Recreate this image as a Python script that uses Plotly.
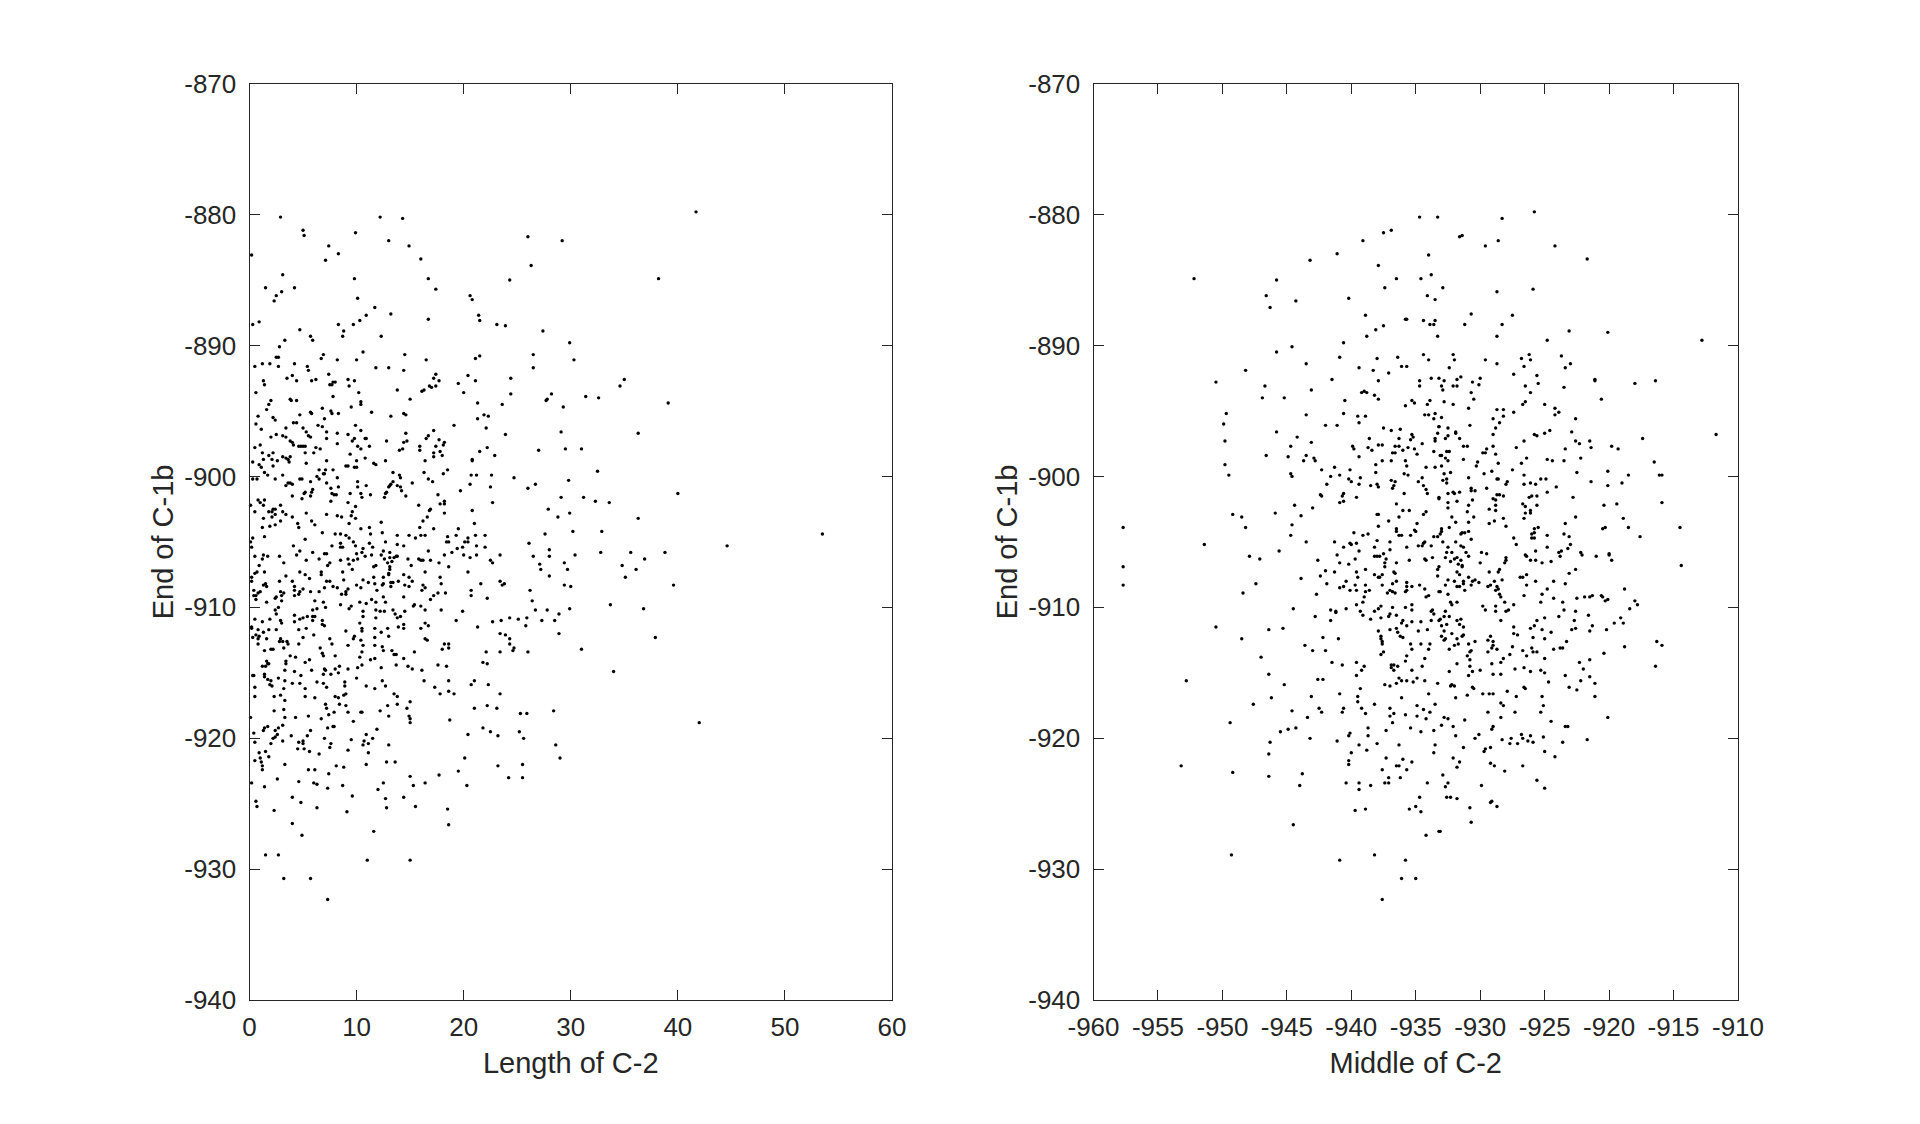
import plotly.graph_objects as go

# (Length of C-2, End of C-1b) for each event
length_vs_end = [
(2.9,-880.2),(12.2,-880.2),(14.3,-880.3),(5.0,-881.2),(5.1,-881.6),(9.9,-881.4),(13.0,-882.0),(14.9,-882.4),(7.4,-882.4),(8.3,-883.0),
(0.2,-883.1),(7.1,-883.5),(16.0,-883.4),(26.0,-881.7),(29.2,-882.0),(26.3,-883.9),(3.1,-884.6),(9.8,-884.9),(16.7,-884.9),(24.3,-885.0),
(1.5,-885.6),(4.2,-885.6),(17.4,-885.7),(3.0,-885.9),(2.5,-886.2),(2.3,-886.6),(20.6,-886.2),(20.8,-886.5),(10.1,-886.4),(11.7,-887.1),
(13.2,-887.6),(10.9,-887.7),(10.3,-888.1),(9.7,-888.4),(8.3,-888.4),(8.8,-888.9),(8.7,-889.3),(0.3,-888.4),(0.9,-888.2),(4.7,-888.8),
(5.7,-889.3),(5.9,-889.6),(12.3,-889.3),(16.7,-888.0),(21.4,-887.7),(21.5,-888.1),(23.1,-888.4),(23.9,-888.5),(27.4,-888.9),(29.9,-889.8),
(3.3,-889.6),(2.8,-890.1),(10.6,-890.5),(14.5,-890.7),(6.9,-890.7),(6.7,-891.0),(2.5,-890.9),(2.7,-890.9),(0.5,-891.6),(1.2,-891.4),
(1.9,-891.4),(2.7,-891.6),(4.2,-891.4),(5.4,-891.6),(5.5,-891.9),(8.2,-891.1),(10.0,-891.1),(11.8,-891.7),(13.0,-891.7),(14.4,-891.9),
(16.5,-891.1),(21.1,-891.0),(21.5,-890.8),(26.5,-890.7),(26.5,-891.7),(7.4,-892.2),(4.0,-892.3),(3.5,-892.5),(4.4,-892.7),(5.8,-892.7),
(6.2,-892.6),(1.3,-892.7),(1.4,-893.0),(7.5,-893.0),(7.7,-893.0),(7.8,-892.8),(8.0,-892.8),(9.2,-892.6),(9.8,-892.7),(9.3,-893.1),
(17.4,-892.2),(17.2,-892.5),(17.7,-892.7),(17.4,-893.1),(17.0,-893.2),(16.8,-893.1),(16.3,-893.4),(16.1,-893.5),(20.4,-892.3),(19.5,-892.9),
(21.1,-892.7),(24.4,-892.5),(13.8,-893.4),(10.2,-893.6),(0.6,-893.6),(20.0,-893.6),(24.4,-893.7),(7.8,-893.9),(15.0,-894.1),(28.2,-893.7),
(27.8,-894.1),(27.7,-894.2),(2.0,-894.2),(3.8,-894.1),(3.9,-894.2),(4.4,-894.2),(1.8,-894.5),(10.4,-894.3),(10.4,-894.5),(21.3,-894.4),
(23.6,-894.5),(9.5,-894.7),(6.8,-894.8),(29.3,-894.7),(7.6,-895.0),(11.4,-895.1),(5.7,-895.1),(5.8,-895.2),(7.7,-895.2),(8.3,-895.2),
(1.6,-894.9),(0.8,-895.4),(4.7,-895.3),(2.2,-895.5),(2.4,-895.7),(13.2,-895.4),(14.4,-895.2),(14.6,-895.3),(21.9,-895.3),(22.3,-895.4),
(21.3,-895.6),(7.0,-895.6),(4.1,-895.9),(4.4,-895.9),(0.6,-896.0),(9.9,-896.1),(6.4,-896.1),(6.8,-896.2),(19.1,-896.1),(22.1,-896.3),
(5.0,-896.3),(3.4,-896.3),(1.1,-896.4),(17.2,-896.5),(10.4,-896.5),(5.3,-896.6),(7.2,-896.6),(8.2,-896.7),(14.6,-896.7),(23.9,-896.8),
(29.1,-896.6),(16.7,-896.9),(2.5,-896.8),(3.1,-896.9),(2.0,-897.0),(3.4,-897.0),(5.5,-896.9),(5.7,-897.0),(9.2,-896.8),(7.2,-897.1),
(9.8,-897.1),(9.6,-897.3),(10.8,-897.1),(10.9,-897.1),(12.8,-897.3),(14.4,-897.4),(14.7,-897.3),(16.5,-897.1),(17.7,-897.2),(18.2,-897.4),
(18.1,-897.6),(17.4,-897.7),(8.2,-897.5),(3.8,-897.3),(4.0,-897.4),(4.1,-897.6),(11.2,-897.7),(15.9,-897.7),(4.6,-897.7),(4.8,-897.7),
(5.0,-897.7),(5.2,-897.7),(1.0,-897.6),(0.5,-897.8),(6.2,-897.8),(6.6,-897.9),(10.1,-897.7),(10.4,-897.9),(14.0,-898.0),(14.3,-897.9),
(15.9,-898.0),(17.8,-898.1),(21.5,-898.1),(22.2,-897.8),(27.0,-898.0),(29.5,-897.9),(1.2,-898.2),(2.2,-898.2),(1.8,-898.4),(5.2,-898.2),
(6.0,-898.2),(9.4,-898.3),(17.2,-898.2),(17.2,-898.5),(18.0,-898.4),(22.9,-898.4),(2.1,-898.7),(1.3,-898.7),(2.6,-898.8),(3.1,-898.5),
(3.4,-898.6),(3.6,-898.7),(3.8,-898.5),(3.7,-898.9),(7.2,-898.8),(10.8,-898.6),(10.0,-898.8),(12.7,-898.8),(16.4,-898.8),(20.8,-898.7),
(20.8,-898.8),(0.3,-898.9),(5.3,-899.0),(11.6,-899.0),(11.8,-899.1),(0.9,-899.1),(2.2,-899.2),(1.1,-899.3),(9.0,-899.2),(9.2,-899.2),
(9.8,-899.3),(10.0,-899.3),(7.8,-899.5),(6.5,-899.5),(7.1,-899.5),(18.5,-899.5),(16.3,-899.7),(13.4,-899.7),(1.4,-899.7),(6.9,-899.8),
(7.0,-899.8),(3.1,-899.9),(1.7,-899.9),(18.1,-899.8),(20.7,-899.9),(21.2,-899.9),(22.6,-899.9),(24.7,-900.1),(6.3,-900.0),(14.0,-899.9),
(14.1,-900.1),(8.2,-900.1),(0.3,-900.2),(0.7,-900.2),(2.4,-900.2),(4.7,-900.2),(4.9,-900.2),(6.5,-900.2),(16.7,-900.2),(29.8,-900.3),
(5.7,-900.4),(10.1,-900.4),(17.1,-900.4),(7.2,-900.5),(3.6,-900.5),(3.8,-900.5),(4.0,-900.6),(3.4,-900.7),(13.4,-900.4),(13.2,-900.6),
(13.1,-900.7),(13.0,-900.8),(10.9,-900.7),(10.1,-900.8),(15.2,-900.5),(13.8,-900.7),(14.1,-900.8),(14.2,-901.1),(20.6,-900.6),(22.5,-900.8),
(26.7,-900.6),(26.0,-900.9),(7.6,-900.9),(8.3,-900.8),(5.9,-901.0),(5.8,-901.2),(19.7,-901.1),(7.7,-901.3),(7.9,-901.4),(8.1,-901.4),
(9.4,-901.3),(10.4,-901.3),(10.5,-901.6),(11.3,-901.4),(5.2,-901.2),(5.1,-901.3),(5.7,-901.5),(4.9,-901.7),(4.0,-901.5),(12.8,-901.2),
(12.7,-901.3),(12.6,-901.6),(14.6,-901.5),(17.6,-901.4),(29.1,-901.6),(0.8,-901.8),(1.4,-901.8),(1.0,-902.0),(1.3,-902.2),(7.6,-901.9),
(9.2,-902.0),(17.8,-902.1),(18.2,-901.9),(18.2,-902.1),(22.7,-902.0),(0.1,-902.2),(2.9,-902.2),(9.9,-902.3),(15.8,-902.2),(16.9,-902.5),
(16.8,-902.6),(2.2,-902.5),(2.4,-902.5),(27.9,-902.5),(9.6,-902.7),(1.8,-902.7),(2.1,-902.7),(2.4,-902.9),(3.1,-902.7),(3.4,-902.9),
(4.0,-903.1),(0.5,-902.7),(5.3,-902.8),(20.8,-902.6),(18.2,-902.8),(7.2,-902.9),(8.2,-903.0),(8.6,-903.1),(9.5,-903.0),(9.9,-903.2),
(2.1,-903.1),(1.3,-903.2),(16.6,-903.1),(16.2,-903.4),(28.8,-903.1),(29.9,-902.8),(5.8,-903.4),(6.1,-903.7),(2.9,-903.4),(9.3,-903.6),
(12.3,-903.5),(21.0,-903.6),(4.5,-903.6),(4.6,-903.9),(2.4,-903.7),(1.9,-903.8),(1.2,-903.9),(15.9,-903.9),(11.2,-903.9),(10.4,-904.0),
(17.2,-904.0),(19.5,-904.0),
(6.8,-904.3),(8.0,-904.4),(8.5,-904.4),(9.0,-904.5),(9.3,-904.7),(11.3,-904.4),(12.4,-904.3),(13.8,-904.5),(14.9,-904.5),(15.5,-904.7),
(16.0,-904.5),(16.4,-904.5),(18.5,-904.6),(19.3,-904.5),(21.1,-904.5),(22.0,-904.5),(27.6,-904.4),(1.4,-904.6),(0.3,-904.7),(5.2,-904.8),
(12.7,-905.0),(9.7,-905.0),(9.9,-905.3),(0.1,-905.0),(0.2,-905.4),(18.6,-905.0),(18.4,-905.0),(20.1,-905.0),(20.4,-905.0),(20.4,-904.7),
(26.1,-905.1),(7.7,-905.3),(8.5,-905.1),(8.5,-905.4),(8.7,-905.4),(11.2,-905.1),(11.5,-905.4),(13.8,-905.2),(14.4,-905.3),(21.2,-905.3),
(22.0,-905.4),(4.1,-905.3),(10.6,-905.5),(10.5,-905.8),(12.5,-905.7),(13.1,-905.8),(16.7,-905.7),(19.9,-905.4),(19.4,-905.5),(18.9,-905.8),
(18.2,-906.0),(28.0,-905.6),(28.0,-906.1),(4.7,-905.7),(4.4,-906.0),(5.9,-905.8),(7.0,-905.9),(7.2,-905.9),(6.5,-906.3),(10.0,-905.9),
(0.5,-906.1),(1.3,-906.0),(1.7,-906.1),(1.2,-906.3),(2.8,-906.1),(10.8,-906.1),(11.4,-906.0),(12.3,-906.0),(12.6,-906.3),(13.1,-906.2),
(13.5,-906.2),(13.7,-906.1),(13.8,-906.1),(14.8,-906.3),(15.8,-906.3),(16.0,-906.4),(16.2,-906.4),(16.9,-906.4),(20.0,-906.0),(20.6,-906.2),
(21.2,-906.0),(23.4,-906.0),(26.5,-906.1),(5.3,-906.4),(8.5,-906.4),(9.2,-906.3),(9.7,-906.4),(10.1,-906.3),(3.2,-906.6),(12.9,-906.6),
(13.3,-906.5),(22.5,-906.4),(22.7,-906.6),(17.7,-906.6),(29.4,-906.6),(7.5,-906.6),(7.3,-906.8),(9.3,-906.7),(27.1,-906.7),(27.2,-907.1),
(15.1,-906.8),(18.6,-906.9),(0.9,-906.8),(11.6,-906.9),(11.8,-906.8),(13.1,-906.9),(13.1,-907.1),(9.6,-907.1),(29.7,-907.1),(4.7,-907.3),
(5.2,-907.5),(5.6,-907.8),(0.5,-907.4),(0.7,-907.3),(1.4,-907.3),(6.7,-907.3),(6.7,-907.5),(8.7,-907.3),(16.4,-907.3),(20.4,-907.3),
(13.0,-907.4),(11.6,-907.7),(12.5,-907.7),(13.0,-907.5),(14.4,-907.5),(14.9,-907.7),(15.2,-908.0),(0.2,-907.7),(0.2,-908.0),(3.4,-907.6),
(17.8,-907.7),(28.0,-907.6),(2.8,-908.0),(4.0,-908.0),(7.2,-908.0),(7.5,-908.0),(8.8,-907.9),(10.6,-907.9),(11.1,-908.1),(11.7,-908.2),
(12.4,-908.3),(12.5,-908.2),(13.2,-908.1),(13.4,-908.1),(13.2,-908.4),(13.9,-908.0),(1.3,-908.3),(1.5,-908.2),(1.6,-908.4),(10.0,-908.3),
(10.4,-908.5),(14.5,-908.3),(14.9,-908.4),(16.2,-908.3),(16.4,-908.5),(17.9,-908.2),(21.6,-908.2),(23.4,-908.0),(23.8,-908.2),(23.6,-908.3),
(29.4,-908.3),(4.2,-908.4),(4.2,-908.7),(7.0,-908.5),(7.8,-908.4),(8.2,-908.5),(9.2,-908.6),(9.0,-908.8),(9.0,-909.0),(8.6,-909.0),
(11.9,-908.7),(0.4,-908.7),(1.0,-908.8),(0.8,-908.9),(0.6,-909.1),(0.4,-909.1),(0.6,-909.4),(2.9,-908.8),(3.2,-908.9),(3.0,-909.1),
(2.5,-909.2),(2.4,-909.3),(3.0,-909.5),(5.0,-908.6),(4.7,-908.8),(4.6,-909.0),(4.2,-909.1),(5.7,-908.8),(6.5,-908.8),(16.1,-908.7),
(17.6,-908.9),(17.2,-909.1),(16.9,-909.4),(18.3,-908.9),(20.7,-908.7),(20.7,-909.1),(26.2,-908.7),(26.4,-909.5),(14.4,-909.2),(12.5,-909.2),
(12.7,-909.6),(22.2,-909.3),(1.6,-909.6),(6.1,-909.5),(6.9,-909.6),(7.1,-910.0),(6.3,-910.1),(5.9,-910.2),(8.5,-909.8),(9.3,-910.1),
(9.5,-909.9),(10.3,-909.6),(10.9,-909.7),(11.4,-909.4),(11.8,-909.6),(15.4,-909.8),(15.3,-909.9),(16.0,-909.9),(16.4,-910.2),(10.6,-910.3),
(10.6,-910.7),(11.8,-910.2),(12.2,-910.3),(12.6,-910.3),(11.8,-910.8),(13.4,-910.2),(13.6,-910.5),(13.8,-910.8),(14.1,-910.7),(14.5,-910.3),
(17.9,-910.2),(19.9,-910.3),(26.7,-910.2),(27.8,-910.2),(29.9,-910.1),(28.9,-910.5),(2.7,-910.0),(2.4,-910.2),(2.5,-910.5),(4.2,-910.6),
(5.0,-910.8),(5.4,-910.7),(5.9,-910.7),(6.1,-910.7),(4.7,-910.9),(4.2,-911.1),(6.8,-911.0),(5.9,-911.0),(0.5,-910.9),(1.9,-910.9),
(1.2,-911.1),(2.9,-911.0),(3.0,-911.2),(19.3,-911.0),(22.7,-911.1),(23.5,-911.0),(24.3,-910.8),(25.1,-910.9),(25.9,-910.8),(25.8,-911.4),
(27.3,-911.0),(28.5,-911.0),(10.3,-911.2),(10.5,-911.6),(10.5,-911.8),(16.4,-911.2),(16.7,-911.4),(16.0,-911.6),(6.8,-911.3),(7.0,-911.4),
(14.4,-911.3),(13.9,-911.5),(14.4,-911.6),(21.3,-911.5),(0.2,-911.5),(0.2,-911.6),(0.8,-911.7),(1.3,-911.9),(1.8,-911.7),(2.5,-911.7),
(4.6,-911.7),(5.3,-911.6),(6.0,-912.1),(9.0,-911.8),(11.7,-911.6),(12.3,-911.9),(12.9,-911.6),(13.0,-912.2),(28.9,-912.0),(5.0,-912.3),
(0.6,-912.1),(0.9,-912.2),(0.3,-912.3),(0.8,-912.4),(1.6,-912.4),(2.9,-912.4),(3.1,-912.6),(2.8,-912.6),(3.5,-912.6),(7.5,-912.4),
(7.7,-912.8),(9.8,-912.2),(9.7,-912.4),(10.4,-912.5),(11.7,-912.3),(16.4,-912.4),(16.6,-912.5),(23.4,-912.0),(23.9,-912.1),(24.3,-912.4),
(24.3,-912.8),(24.7,-913.1),(24.6,-913.3),(0.8,-912.8),(3.6,-912.8),(4.6,-912.8),(9.2,-912.9),(10.6,-912.9),(11.7,-912.9),(12.4,-913.0),
(12.5,-913.3),(18.2,-912.8),(18.6,-912.8),(18.6,-913.1),(18.0,-913.2),(3.2,-913.1),(1.4,-913.3),(2.0,-913.2),(2.2,-913.2),(6.6,-913.1),
(6.8,-913.5),(6.9,-913.7),(10.5,-913.4),(10.3,-913.8),(13.3,-913.3),(13.5,-913.6),(13.7,-913.6),(14.4,-913.9),(15.4,-913.4),(22.1,-913.4),
(23.4,-913.4),(26.0,-913.4),(3.8,-913.7),(4.3,-913.8),(8.0,-913.7),(3.4,-914.1),(3.4,-914.3),(5.6,-914.0),(5.2,-914.2),(11.3,-914.0),
(11.7,-913.9),(1.6,-914.1),(1.5,-914.5),(1.8,-914.3),(1.2,-914.5),(1.7,-914.3),(13.7,-914.4),(14.8,-914.5),(15.2,-914.7),(16.1,-914.8),
(10.5,-914.4),(10.1,-914.6),(9.2,-914.7),(8.4,-914.5),(8.0,-914.7),(8.3,-915.0),(7.6,-915.1),(7.0,-914.7),(6.9,-915.1),(7.1,-914.8),
(17.6,-914.4),(18.4,-914.5),(21.8,-914.2),(22.2,-914.3),(12.3,-914.6),(3.3,-914.8),(4.2,-914.9),(5.8,-914.8),(4.8,-915.2),(0.3,-915.2),
(0.4,-915.2),(1.4,-915.1),(1.4,-915.3),(2.7,-915.4),(10.0,-915.4),(1.7,-915.5),(2.0,-915.6),(1.9,-915.9),(2.1,-916.0),(3.3,-915.6),
(4.0,-915.8),(4.7,-915.8),(6.3,-915.7),(6.9,-915.8),(7.2,-916.1),(8.9,-915.7),(8.9,-916.0),(10.9,-916.0),(11.7,-916.2),(12.4,-915.6),
(12.7,-916.0),(16.3,-915.6),(17.3,-916.1),(18.6,-915.6),(21.0,-915.6),(20.7,-915.9),(22.3,-915.9),(0.5,-916.1),(0.5,-916.8),(5.2,-916.2),
(3.2,-916.2),(17.8,-916.6),(18.6,-916.4),(19.1,-916.6),(23.4,-916.6),(9.0,-916.6),(8.8,-916.7),(8.0,-916.8),(8.3,-916.9),(13.5,-916.6),
(13.8,-916.8),(2.3,-916.8),(2.9,-916.7),(5.2,-916.8),(6.1,-916.9),(15.0,-917.2),(13.8,-917.4),(12.9,-917.5),(14.7,-917.7),(3.3,-917.1),
(7.1,-917.4),(8.4,-917.4),(9.0,-917.5),(7.2,-917.7),(21.0,-917.7),(22.2,-917.5),(23.1,-917.7),(2.3,-917.9),(3.2,-917.8),(7.9,-918.0),
(9.2,-918.0),(10.4,-918.0),(10.5,-918.0),(12.2,-917.9),(28.4,-917.9),(25.3,-918.1),(25.9,-918.1),(7.4,-918.2),(5.5,-918.3),(6.7,-918.5),
(13.0,-918.3),(14.9,-918.3),(15.0,-918.8),(15.0,-918.5),(3.3,-918.4),(4.3,-918.4),(0.1,-918.4),(18.7,-918.6),(9.7,-918.7),(1.7,-919.1),
(1.4,-919.2),(1.3,-919.4),(3.1,-919.0),(2.7,-919.2),(2.4,-919.4),(2.6,-919.7),(2.2,-920.0),(2.4,-919.9),(2.0,-920.4),(7.8,-919.1),
(7.9,-919.1),(7.3,-919.2),(5.7,-919.4),(5.4,-919.8),(3.9,-919.8),(11.9,-919.3),(10.9,-919.7),(21.8,-919.2),(22.5,-919.5),(23.2,-919.8),
(25.2,-919.5),(25.6,-920.0),(0.4,-919.6),(0.5,-920.3),(20.4,-919.7),(7.0,-920.0),(11.5,-920.0),(10.7,-920.2),(11.1,-920.4),(10.6,-920.5),
(9.5,-920.1),(3.1,-920.2),(4.6,-920.3),(5.0,-920.2),(5.0,-920.4),(4.5,-920.8),(5.1,-920.8),(7.6,-920.4),(7.5,-920.7),(13.0,-920.5),
(28.6,-920.5),(29.0,-921.5),(5.6,-921.0),(6.5,-921.2),(9.2,-920.9),(11.1,-921.1),(0.9,-921.1),(1.5,-921.0),(1.8,-921.4),(1.0,-921.5),
(1.1,-921.8),(0.5,-921.7),(1.2,-922.1),(1.2,-922.4),(20.1,-921.5),(12.8,-921.8),(13.6,-921.8),(3.3,-922.0),(8.1,-922.1),(8.8,-922.2),
(10.9,-922.0),(23.2,-922.1),(25.5,-922.0),(5.5,-922.4),(6.1,-922.4),(19.5,-922.5),(7.4,-922.7),(15.0,-922.9),(17.7,-922.8),(24.2,-923.0),
(25.5,-923.0),(2.6,-923.1),(0.2,-923.4),(4.6,-923.3),(6.0,-923.4),(6.3,-923.5),(12.5,-923.4),(16.4,-923.4),(1.4,-923.7),(7.3,-923.8),
(8.7,-923.6),(15.3,-923.6),(20.3,-923.6),(12.0,-923.9),(4.0,-924.5),(9.6,-924.4),(12.7,-924.6),(14.4,-924.5),(0.6,-924.8),(0.7,-925.2),
(4.8,-924.9),(6.3,-925.3),(12.8,-925.3),(15.5,-925.2),(18.5,-925.4),(2.3,-925.5),(9.1,-925.6),(4.0,-926.5),(18.6,-926.6),(11.6,-927.1),
(4.9,-927.4),(1.5,-928.9),(2.7,-928.9),(11.0,-929.3),(15.0,-929.3),(3.2,-930.7),(5.7,-930.7),(7.3,-932.3),
(41.7,-879.8),(38.2,-884.9),(30.3,-891.1),(35.0,-892.6),(34.6,-893.1),(31.4,-893.9),(32.6,-894.0),(39.1,-894.4),(36.3,-896.7),(31.0,-897.9),
(32.5,-899.6),(40.0,-901.3),(31.2,-901.6),(32.3,-901.9),(33.6,-902.0),(36.3,-903.2),(30.2,-904.2),(32.9,-904.2),(53.5,-904.4),(44.6,-905.3),
(30.4,-906.0),(32.8,-905.8),(35.6,-905.8),(38.8,-905.8),(36.9,-906.3),(34.8,-906.8),(36.1,-907.1),(35.1,-907.7),(30.0,-908.4),(39.6,-908.3),
(33.7,-909.8),(36.8,-910.1),(37.9,-912.3),(31.0,-913.2),(34.0,-914.9),(42.0,-918.8),
]

# (Middle of C-2, End of C-1b) for each event
middle_vs_end = [
(-934.7,-880.2),(-933.3,-880.2),(-937.5,-881.4),(-936.9,-881.2),(-939.1,-882.0),(-941.1,-883.0),(-943.2,-883.5),(-934.0,-883.1),(-937.9,-883.9),(-933.8,-884.6),
(-952.2,-884.9),(-945.8,-885.0),(-936.5,-884.9),(-934.6,-884.9),(-937.4,-885.6),(-946.6,-886.2),(-940.2,-886.4),(-934.1,-886.2),(-933.5,-886.5),(-944.3,-886.6),
(-946.3,-887.1),(-938.9,-887.7),(-935.8,-888.0),(-935.7,-888.0),(-934.4,-888.1),(-933.9,-888.4),(-933.6,-888.4),(-933.5,-888.1),(-937.5,-888.5),(-938.1,-888.8),
(-938.8,-889.3),(-933.3,-889.3),(-940.6,-889.8),(-944.6,-890.1),(-945.8,-890.5),(-940.9,-890.9),(-936.4,-890.9),(-934.4,-890.7),(-934.0,-891.1),(-938.0,-891.0),
(-943.5,-891.4),(-936.1,-891.6),(-935.7,-891.6),(-939.4,-891.7),(-948.2,-891.9),(-938.3,-891.9),(-937.1,-892.1),(-933.8,-892.5),(-933.2,-892.5),(-941.5,-892.6),
(-937.9,-892.7),(-950.5,-892.8),(-934.7,-892.7),(-934.7,-893.1),(-946.7,-893.1),(-943.1,-893.4),(-939.2,-893.6),(-939.0,-893.5),(-938.8,-893.6),(-938.2,-893.8),
(-937.9,-894.1),(-946.9,-894.0),(-945.2,-894.0),(-940.5,-894.2),(-935.3,-894.2),(-935.1,-894.4),(-933.9,-894.2),(-934.1,-894.5),(-935.8,-894.6),(-949.7,-895.2),
(-943.5,-895.3),(-940.6,-895.2),(-939.5,-895.4),(-938.9,-895.4),(-934.3,-895.3),(-934.0,-895.3),(-933.5,-895.2),(-933.6,-895.6),(-949.9,-896.0),(-939.4,-895.9),
(-942.0,-896.1),(-941.1,-896.1),(-937.5,-896.3),(-936.9,-896.5),(-936.2,-896.4),(-933.2,-896.2),(-933.3,-896.7),(-945.8,-896.6),(-944.2,-897.0),(-935.3,-896.8),
(-935.2,-897.0),(-935.4,-897.2),(-936.3,-897.1),(-933.5,-897.1),(-933.5,-897.3),(-938.6,-897.1),(-949.8,-897.3),(-943.1,-897.4),(-934.5,-897.5),(-944.7,-897.7),
(-939.9,-897.7),(-939.8,-897.9),(-937.9,-897.6),(-937.6,-897.6),(-936.6,-897.7),(-936.3,-897.7),(-938.7,-897.8),(-938.4,-898.0),(-936.0,-898.0),(-935.6,-897.8),
(-935.1,-897.9),(-933.6,-898.1),(-936.8,-898.2),(-936.6,-898.2),(-934.9,-898.3),(-946.6,-898.4),(-943.5,-898.4),(-944.9,-898.5),(-939.4,-898.5),(-942.9,-898.6),
(-942.8,-898.8),(-943.7,-898.8),(-937.6,-898.8),(-936.9,-898.8),(-935.8,-898.8),(-933.1,-898.4),(-938.1,-899.1),(-949.8,-899.1),(-935.7,-899.2),(-934.2,-899.3),
(-933.5,-899.3),(-941.3,-899.3),(-942.3,-899.5),(-940.1,-899.5),(-938.1,-899.7),(-935.9,-899.8),(-935.6,-899.9),(-949.5,-899.9),(-944.7,-899.8),(-944.6,-900.0),
(-941.6,-900.0),(-940.9,-899.9),(-939.3,-900.1),(-940.2,-900.2),(-940.0,-900.4),(-934.5,-900.1),(-934.8,-900.4),(-934.4,-900.7),(-934.2,-901.0),(-934.1,-901.3),
(-936.9,-900.3),(-936.6,-900.4),(-936.7,-900.7),(-936.8,-900.9),(-941.9,-900.6),(-939.4,-900.6),(-938.5,-900.7),(-938.0,-900.6),(-937.9,-900.8),(-942.4,-901.4),
(-942.3,-901.5),(-935.9,-901.3),(-940.6,-901.3),(-940.7,-901.5),(-939.6,-901.6),(-933.2,-901.6),(-940.9,-902.0),(-940.6,-901.9),(-936.5,-902.1),(-944.4,-902.2),
(-943.0,-902.4),(-936.0,-902.6),(-935.5,-902.6),(-934.2,-902.7),(-934.4,-902.9),(-945.9,-902.8),(-949.2,-902.9),(-948.5,-903.1),(-943.9,-903.0),(-938.0,-902.9),
(-937.9,-902.9),(-936.3,-903.1),(-937.1,-903.4),(-934.9,-903.6),(-957.7,-903.9),(-948.2,-903.9),(-944.6,-903.7),(-937.9,-903.8),(-936.5,-904.0),(-935.1,-904.1),
(-944.7,-904.5),(-939.8,-904.3),(-939.1,-904.5),(-938.7,-904.4),(-936.5,-904.2),(-936.3,-904.5),(-936.1,-904.5),(-935.4,-904.5),(-935.0,-904.2),(-933.6,-904.6),
(-933.3,-904.6),(-943.5,-905.0),(-941.3,-905.0),(-938.0,-904.9),(-937.0,-905.0),(-940.1,-905.1),(-939.6,-905.1),(-940.0,-905.2),(-940.6,-905.4),(-934.3,-905.0),
(-934.4,-905.1),(-934.5,-905.3),(-934.8,-905.3),(-933.8,-905.3),(-951.4,-905.2),(-938.2,-905.4),(-935.7,-905.4),(-939.4,-905.7),(-937.0,-905.6),(-945.6,-905.7),
(-941.1,-906.0),(-938.2,-906.1),(-938.0,-906.1),(-937.8,-906.1),(-937.5,-905.9),(-947.9,-906.1),(-947.1,-906.3),(-939.7,-906.3),(-937.3,-906.3),(-934.3,-906.3),
(-934.2,-906.4),(-933.7,-906.2),(-942.6,-906.4),(-935.5,-906.4),(-940.9,-906.6),(-940.2,-906.7),(-937.4,-906.6),(-937.4,-906.9),(-936.5,-906.6),(-957.7,-906.9),
(-933.2,-906.9),(-933.3,-907.1),(-938.9,-907.1),(-942.0,-907.2),(-941.3,-907.3),(-939.6,-907.3),(-936.7,-907.3),(-936.6,-907.4),(-938.2,-907.5),(-939.5,-907.7),
(-937.9,-907.7),(-937.8,-907.7),(-937.6,-907.5),(-942.4,-907.6),(-943.9,-907.8),(-933.3,-907.6),(-940.4,-908.0),(-936.5,-908.0),(-957.7,-908.3),(-947.4,-908.2),
(-941.9,-908.2),(-939.7,-908.3),(-938.9,-908.3),(-937.6,-908.3),(-936.8,-908.2),(-935.7,-908.1),(-935.7,-908.4),(-935.3,-908.4),(-934.7,-908.3),(-934.3,-908.6),
(-940.9,-908.5),(-940.6,-908.4),(-940.1,-908.7),(-939.6,-908.7),(-938.9,-908.8),(-938.6,-908.7),(-937.0,-908.7),(-936.8,-908.8),(-937.2,-908.9),(-936.6,-908.9),
(-935.8,-908.8),(-935.7,-908.7),(-948.4,-908.9),(-942.7,-909.0),(-939.0,-909.2),(-934.2,-909.2),(-934.0,-909.1),(-933.2,-908.8),(-939.1,-909.6),(-939.6,-909.8),
(-935.3,-909.8),(-937.7,-909.9),(-937.9,-910.1),(-936.8,-910.0),(-935.8,-910.0),(-944.5,-910.1),(-940.4,-910.1),(-941.6,-910.2),(-941.2,-910.3),(-941.2,-910.4),
(-939.3,-910.3),(-938.2,-910.3),(-935.3,-910.2),(-933.7,-910.2),(-933.8,-910.3),(-933.6,-910.5),(-942.8,-910.7),(-939.1,-910.6),(-938.5,-910.9),(-937.7,-910.8),
(-937.0,-910.5),(-937.1,-910.7),(-936.5,-910.6),(-941.6,-911.0),(-936.0,-911.0),(-936.1,-911.2),(-935.3,-911.1),(-934.6,-911.1),(-933.8,-911.0),(-933.2,-911.0),
(-935.7,-911.4),(-950.5,-911.5),(-945.3,-911.6),(-946.4,-911.7),(-937.9,-911.8),(-937.0,-911.7),(-936.5,-911.6),(-936.4,-911.9),(-934.8,-911.8),(-934.1,-911.7),
(-942.2,-912.3),(-941.0,-912.4),(-948.5,-912.4),(-937.7,-912.2),(-937.7,-912.4),(-937.6,-912.6),(-936.2,-912.2),(-936.0,-912.3),(-943.6,-912.9),(-937.6,-912.8),
(-935.4,-912.8),(-934.6,-912.8),(-933.9,-912.8),(-943.0,-913.3),(-942.0,-913.3),(-935.3,-913.2),(-934.0,-913.2),(-937.5,-913.4),(-937.7,-913.6),(-947.0,-913.8),
(-935.7,-913.7),(-934.3,-913.9),(-941.5,-914.2),(-940.7,-914.4),(-939.6,-914.2),(-939.0,-914.5),(-939.2,-914.8),(-935.8,-914.1),(-934.5,-914.5),(-936.9,-914.4),
(-936.7,-914.4),(-936.4,-914.5),(-936.9,-914.6),(-936.7,-914.8),(-935.3,-914.8),(-946.4,-915.1),(-939.6,-915.2),(-952.8,-915.6),(-942.6,-915.5),(-942.2,-915.5),
(-945.2,-915.9),(-937.4,-915.9),(-937.0,-916.0),(-936.5,-915.8),(-936.3,-915.4),(-936.1,-915.6),(-935.7,-915.6),(-935.2,-915.7),(-934.9,-915.4),(-934.3,-915.6),
(-933.3,-915.8),(-939.3,-916.2),(-934.0,-916.6),(-940.9,-916.6),(-943.1,-916.8),(-939.5,-916.8),(-939.5,-917.2),(-946.2,-916.9),(-936.1,-916.9),(-947.6,-917.4),
(-938.2,-917.4),(-934.9,-917.5),(-933.5,-917.4),(-942.5,-917.7),(-940.6,-917.7),(-939.2,-917.7),(-937.0,-917.7),(-944.6,-917.9),(-942.3,-918.0),(-940.7,-918.0),
(-938.9,-918.1),(-936.7,-918.1),(-934.4,-917.8),(-933.9,-918.0),(-943.4,-918.4),(-937.0,-918.3),(-935.8,-918.2),(-934.9,-918.3),(-934.2,-918.5),(-936.8,-918.8),
(-949.4,-918.8),(-945.5,-919.5),(-944.9,-919.3),(-944.3,-919.2),(-938.7,-919.2),(-935.4,-919.2),(-937.3,-919.4),(-934.6,-919.5),(-933.6,-919.4),(-940.1,-919.6),
(-940.2,-919.8),(-938.7,-919.8),(-943.2,-920.0),(-946.3,-920.3),(-941.1,-920.2),(-939.4,-920.5),(-938.0,-920.4),(-936.3,-920.5),(-933.5,-920.5),(-940.0,-921.1),
(-938.8,-920.9),(-933.6,-921.1),(-946.4,-921.2),(-937.3,-921.5),(-936.0,-921.6),(-940.2,-921.7),(-940.2,-922.0),(-935.3,-921.8),(-953.2,-922.1),(-936.5,-922.1),
(-936.3,-922.1),(-935.7,-922.4),(-937.6,-922.4),(-949.2,-922.6),(-943.8,-922.7),(-946.4,-922.9),(-937.1,-923.0),(-936.2,-923.0),(-940.4,-923.4),(-939.4,-923.4),
(-937.4,-923.4),(-937.1,-923.4),(-934.1,-923.4),(-944.0,-923.6),(-938.5,-923.6),(-939.4,-923.9),(-934.7,-924.5),(-939.7,-925.5),(-938.9,-925.4),(-935.5,-925.4),
(-935.0,-925.2),(-934.6,-925.6),(-944.5,-926.6),(-934.2,-927.4),(-933.2,-927.1),(-949.3,-928.9),(-938.2,-928.9),(-940.9,-929.3),(-935.8,-929.3),(-936.1,-930.7),
(-935.0,-930.7),(-937.6,-932.3),
(-925.8,-879.8),(-928.3,-880.3),(-931.6,-881.7),(-931.4,-881.6),(-928.6,-882.0),(-929.6,-882.4),(-924.2,-882.4),(-921.7,-883.4),(-932.9,-885.6),(-928.7,-885.9),
(-925.9,-885.7),(-930.7,-887.6),(-927.5,-887.7),(-931.2,-888.4),(-928.3,-888.4),(-923.1,-888.9),(-920.1,-889.0),(-928.7,-889.3),(-924.8,-889.6),(-912.8,-889.6),
(-932.1,-890.7),(-932.0,-891.1),(-932.4,-891.7),(-926.8,-891.0),(-926.2,-890.7),(-926.1,-891.1),(-926.6,-891.6),(-929.6,-891.1),(-928.7,-891.4),(-923.7,-890.8),
(-923.4,-891.7),(-923.0,-891.4),(-927.4,-892.2),(-925.6,-892.3),(-925.5,-892.9),(-931.5,-892.4),(-931.8,-892.6),(-932.8,-892.7),(-933.0,-893.1),(-932.1,-893.1),
(-931.8,-893.1),(-932.9,-893.4),(-930.0,-892.5),(-930.6,-892.8),(-930.1,-893.0),(-921.1,-892.6),(-921.1,-892.7),(-918.0,-892.9),(-916.4,-892.7),(-926.5,-893.1),
(-923.5,-893.2),(-926.1,-893.6),(-930.7,-893.6),(-930.5,-894.1),(-920.6,-894.1),(-932.8,-894.3),(-926.5,-894.3),(-926.7,-894.5),(-932.1,-894.5),(-925.0,-894.5),
(-930.9,-894.8),(-924.2,-894.8),(-923.9,-895.1),(-924.2,-895.3),(-928.7,-894.9),(-928.2,-894.9),(-928.2,-895.4),(-927.4,-895.1),(-933.0,-895.5),(-929.0,-895.6),
(-928.5,-895.9),(-928.8,-896.3),(-922.6,-895.6),(-930.8,-896.1),(-933.2,-896.2),(-932.5,-896.3),(-922.9,-896.6),(-924.6,-896.5),(-925.0,-896.7),(-925.8,-896.8),
(-925.6,-896.9),(-931.9,-896.6),(-931.9,-896.7),(-929.0,-896.8),(-932.5,-896.9),(-932.7,-897.1),(-931.6,-897.1),(-917.4,-897.1),(-911.7,-896.8),(-926.6,-897.3),
(-922.6,-897.3),(-922.3,-897.5),(-921.5,-897.3),(-931.3,-897.7),(-931.0,-897.7),(-929.0,-897.7),(-929.5,-897.9),(-927.2,-897.8),(-923.4,-897.9),(-921.4,-897.8),
(-919.8,-897.7),(-919.3,-897.9),(-929.8,-898.2),(-929.6,-898.2),(-932.6,-898.1),(-932.4,-898.1),(-933.0,-898.4),(-928.8,-898.3),(-932.7,-898.6),(-932.5,-898.8),
(-931.3,-898.7),(-930.2,-898.9),(-930.3,-899.2),(-926.4,-898.6),(-926.8,-899.0),(-928.6,-899.0),(-924.8,-898.7),(-924.4,-898.8),(-923.5,-898.8),(-922.2,-898.6),
(-916.5,-898.9),(-933.0,-899.2),(-927.5,-899.5),(-929.1,-899.6),(-929.7,-899.8),(-932.3,-899.7),(-932.8,-899.8),(-922.5,-899.7),(-920.1,-899.6),(-926.6,-899.9),
(-918.5,-899.9),(-916.1,-899.9),(-915.9,-899.9),(-930.9,-900.1),(-928.7,-900.2),(-928.6,-900.2),(-932.9,-900.3),(-932.6,-900.2),(-932.6,-900.5),(-925.3,-900.2),
(-924.9,-900.2),(-927.9,-900.4),(-928.0,-900.6),(-926.1,-900.5),(-926.6,-900.6),(-925.7,-900.6),(-921.4,-900.4),(-919.0,-900.5),(-920.1,-900.7),(-929.5,-900.9),
(-930.7,-900.9),(-930.7,-901.1),(-930.4,-901.1),(-924.1,-900.8),(-924.8,-901.2),(-932.5,-901.3),(-932.1,-901.2),(-932.0,-901.3),(-931.6,-901.2),(-928.7,-901.4),
(-928.5,-901.4),(-928.2,-901.5),(-929.0,-901.7),(-928.8,-901.8),(-926.2,-901.6),(-926.0,-901.5),(-925.6,-901.5),(-933.2,-901.7),(-922.8,-901.6),(-931.8,-901.9),
(-932.5,-902.0),(-930.6,-901.8),(-926.7,-902.1),(-925.6,-902.2),(-926.5,-902.3),(-928.8,-902.2),(-930.9,-902.2),(-932.5,-902.4),(-920.4,-902.2),(-919.4,-902.1),
(-915.9,-902.0),(-929.3,-902.5),(-928.8,-902.6),(-931.0,-902.7),(-926.1,-902.6),(-926.1,-902.8),(-926.5,-902.8),(-932.2,-903.1),(-930.5,-903.1),(-922.6,-903.1),
(-928.2,-903.2),(-926.6,-903.2),(-918.9,-903.2),(-931.9,-903.5),(-930.9,-903.5),(-928.9,-903.4),(-929.3,-903.6),(-928.0,-903.8),(-923.4,-903.6),(-932.4,-903.9),
(-933.0,-904.0),(-925.8,-904.0),(-925.5,-903.9),(-920.3,-903.9),(-920.5,-904.0),(-918.5,-903.9),(-914.5,-903.9),
(-931.4,-904.3),(-931.2,-904.3),(-931.5,-904.4),(-930.9,-904.2),(-933.0,-904.2),(-933.1,-904.4),(-927.4,-904.7),(-927.2,-905.2),(-930.7,-904.8),(-931.9,-905.0),
(-932.9,-905.0),(-926.0,-904.4),(-925.8,-904.3),(-926.0,-904.7),(-925.8,-904.7),(-924.8,-904.5),(-923.5,-904.4),(-923.1,-904.6),(-917.6,-904.6),(-923.0,-905.2),
(-923.2,-905.5),(-924.8,-905.4),(-931.5,-905.3),(-931.3,-905.4),(-932.5,-905.4),(-932.6,-905.8),(-932.2,-905.8),(-931.1,-905.8),(-929.9,-905.8),(-929.5,-905.9),
(-925.7,-905.7),(-923.9,-905.8),(-923.7,-905.7),(-922.2,-905.8),(-922.1,-906.0),(-920.0,-905.9),(-920.0,-906.0),(-930.9,-906.1),(-928.0,-906.2),(-928.0,-906.4),
(-928.1,-906.6),(-926.5,-906.0),(-926.4,-906.1),(-926.1,-906.4),(-925.7,-906.4),(-925.2,-906.6),(-924.5,-906.5),(-923.8,-906.1),(-921.0,-906.1),(-919.8,-906.4),
(-932.7,-906.2),(-932.0,-906.3),(-931.8,-906.2),(-932.3,-906.5),(-931.5,-906.4),(-931.7,-906.7),(-931.4,-906.8),(-931.4,-906.9),(-930.0,-906.6),(-914.4,-906.8),
(-928.5,-907.1),(-928.6,-907.3),(-929.3,-907.3),(-931.8,-907.3),(-931.6,-907.5),(-922.6,-907.1),(-923.1,-907.4),(-926.4,-907.5),(-926.9,-907.7),(-926.7,-907.7),
(-930.9,-907.7),(-930.4,-907.9),(-930.6,-908.0),(-930.1,-908.1),(-932.5,-907.9),(-932.0,-908.0),(-931.3,-908.0),(-931.3,-908.2),(-928.3,-907.9),(-928.9,-908.0),
(-925.7,-908.0),(-924.3,-908.0),(-923.4,-908.2),(-932.7,-908.3),(-931.8,-908.4),(-931.6,-908.4),(-931.2,-908.7),(-930.7,-908.3),(-929.4,-908.4),(-929.2,-908.3),
(-928.7,-908.4),(-928.6,-908.6),(-928.8,-908.7),(-926.4,-908.3),(-924.8,-908.6),(-918.8,-908.6),(-933.1,-908.8),(-932.5,-909.0),(-928.5,-909.0),(-928.4,-909.2),
(-926.6,-909.1),(-925.2,-909.0),(-924.3,-909.3),(-922.5,-909.3),(-921.9,-909.2),(-921.5,-909.2),(-921.3,-909.1),(-920.6,-909.1),(-920.5,-909.2),(-920.3,-909.5),
(-920.1,-909.4),(-918.0,-909.5),(-917.8,-909.8),(-918.4,-910.1),(-932.3,-909.6),(-932.2,-909.8),(-931.8,-909.6),(-923.6,-909.6),(-925.3,-909.6),(-928.1,-909.6),
(-927.4,-909.8),(-928.8,-909.9),(-929.8,-909.9),(-929.6,-910.2),(-928.8,-910.3),(-928.0,-910.3),(-927.8,-910.2),(-923.5,-910.2),(-922.6,-910.3),(-921.6,-910.6),
(-923.9,-910.7),(-925.0,-910.8),(-932.7,-910.3),(-932.8,-910.7),(-932.4,-910.7),(-933.1,-910.9),(-931.5,-910.9),(-931.8,-911.0),(-931.6,-911.3),(-928.4,-911.0),
(-919.1,-910.8),(-919.6,-911.2),(-918.9,-911.2),(-925.6,-911.0),(-922.7,-911.0),(-921.3,-911.4),(-925.8,-911.4),(-926.1,-911.6),(-925.2,-911.7),(-927.4,-911.5),
(-933.0,-911.4),(-932.6,-911.3),(-931.3,-911.5),(-932.8,-911.8),(-922.9,-911.7),(-922.6,-911.6),(-921.5,-911.8),(-920.2,-911.7),(-932.2,-912.0),(-931.4,-912.2),
(-931.3,-912.1),(-933.0,-912.2),(-927.4,-912.0),(-927.1,-912.1),(-924.5,-911.9),(-929.2,-912.2),(-929.4,-912.5),(-929.0,-912.6),(-931.8,-912.4),(-932.7,-912.4),
(-932.8,-912.5),(-925.9,-912.3),(-925.0,-912.4),(-930.4,-912.6),(-923.3,-912.6),(-916.3,-912.6),(-915.9,-912.9),(-931.7,-912.8),(-932.0,-912.9),(-932.4,-913.2),
(-930.9,-912.8),(-929.0,-912.9),(-929.1,-913.1),(-928.7,-913.2),(-929.4,-913.4),(-927.5,-913.0),(-926.0,-913.1),(-926.7,-913.3),(-925.9,-913.4),(-925.6,-913.4),
(-924.3,-913.2),(-923.8,-913.1),(-923.6,-913.1),(-918.8,-913.0),(-930.7,-913.3),(-930.8,-913.4),(-931.0,-913.7),(-930.8,-914.0),(-927.7,-913.6),(-928.2,-913.9),
(-926.4,-913.7),(-920.4,-913.5),(-925.0,-913.9),(-921.5,-914.0),(-922.3,-914.2),(-931.8,-914.3),(-929.1,-914.3),(-928.4,-914.2),(-930.8,-914.5),(-927.3,-914.7),
(-926.6,-914.6),(-925.3,-914.8),(-922.0,-914.7),(-916.4,-914.5),(-932.4,-914.9),(-930.6,-914.9),(-930.0,-914.8),(-925.0,-915.0),(-926.1,-914.9),(-930.9,-915.2),
(-929.0,-915.1),(-928.4,-915.1),(-923.4,-915.2),(-921.5,-915.3),(-922.2,-915.6),(-924.7,-915.7),(-921.1,-915.8),(-932.2,-915.9),(-932.3,-916.0),(-932.0,-916.0),
(-930.6,-916.1),(-930.5,-916.2),(-926.6,-916.1),(-926.5,-916.2),(-923.1,-916.1),(-922.5,-916.3),(-927.9,-916.4),(-929.8,-916.6),(-929.3,-916.6),(-929.0,-916.6),
(-931.0,-916.7),(-931.9,-916.9),(-927.2,-916.8),(-925.2,-916.8),(-921.1,-916.8),(-928.4,-917.3),(-928.2,-917.5),(-925.1,-917.5),(-929.4,-918.0),(-927.3,-918.0),
(-925.3,-918.0),(-932.8,-918.4),(-932.5,-918.5),(-931.2,-918.6),(-928.4,-918.4),(-920.1,-918.4),(-924.5,-918.7),(-933.0,-919.0),(-932.1,-919.1),(-929.0,-919.1),
(-929.1,-919.3),(-923.4,-919.1),(-923.2,-919.1),(-930.1,-919.7),(-930.4,-920.0),(-931.9,-919.8),(-928.3,-920.1),(-926.8,-919.7),(-926.7,-920.0),(-926.1,-919.8),
(-926.3,-920.2),(-925.9,-920.3),(-925.1,-919.9),(-927.6,-920.0),(-927.7,-920.4),(-927.1,-920.4),(-921.7,-920.1),(-923.6,-920.3),(-931.3,-920.7),(-929.2,-920.7),
(-929.6,-920.8),(-929.7,-921.0),(-925.0,-921.0),(-924.2,-921.4),(-932.1,-921.5),(-931.6,-921.8),(-931.8,-922.2),(-929.2,-921.9),(-928.9,-922.1),(-928.1,-922.5),
(-926.7,-922.1),(-932.9,-922.8),(-925.6,-923.2),(-925.0,-923.8),(-932.5,-923.4),(-932.7,-923.7),(-929.9,-923.6),(-932.6,-924.5),(-932.3,-924.5),(-931.8,-924.6),
(-929.1,-924.8),(-929.2,-924.9),(-928.7,-925.2),(-930.8,-925.3),(-930.7,-926.4),(-933.1,-927.1),
]

length_c2 = [p[0] for p in length_vs_end]
end_c1b_left = [p[1] for p in length_vs_end]
middle_c2 = [p[0] for p in middle_vs_end]
end_c1b_right = [p[1] for p in middle_vs_end]

y_ticks = [-940, -930, -920, -910, -900, -890, -880, -870]
length_ticks = [0, 10, 20, 30, 40, 50, 60]
middle_ticks = [-960, -955, -950, -945, -940, -935, -930, -925, -920, -915, -910]

W, H = 1920, 1124
FONT = "Liberation Sans"
INK = "#262626"


def axis_style(ticks, title, title_gap, label_gap):
    return dict(
        tickmode="array", tickvals=ticks, ticktext=[str(t) for t in ticks],
        ticks="inside", ticklen=10, tickwidth=1, tickcolor=INK,
        tickfont=dict(family=FONT, size=26, color=INK), ticklabelstandoff=label_gap,
        title=dict(text=title, font=dict(family=FONT, size=29, color=INK), standoff=title_gap),
        showline=True, linewidth=1, linecolor=INK, mirror="allticks",
        showgrid=False, zeroline=False, automargin=False,
    )


fig = go.Figure()
dot = dict(color="black", size=3.4, line=dict(width=0))
fig.add_trace(go.Scatter(x=length_c2, y=end_c1b_left, mode="markers", marker=dot,
                         xaxis="x", yaxis="y", showlegend=False, cliponaxis=False))
fig.add_trace(go.Scatter(x=middle_c2, y=end_c1b_right, mode="markers", marker=dot,
                         xaxis="x2", yaxis="y2", showlegend=False, cliponaxis=False))

y_domain = [1 - 1000.3 / H, 1 - 83.5 / H]
fig.update_layout(
    width=W, height=H, margin=dict(l=0, r=0, t=0, b=0),
    paper_bgcolor="white", plot_bgcolor="white", showlegend=False,
    xaxis=dict(axis_style(length_ticks, "Length of C-2", 12, 3),
               domain=[249.5 / W, 892.0 / W], range=[0, 60], anchor="y"),
    yaxis=dict(axis_style(y_ticks, "End of C-1b", 2, 7),
               domain=y_domain, range=[-940, -870], anchor="x"),
    xaxis2=dict(axis_style(middle_ticks, "Middle of C-2", 12, 3),
                domain=[1093.5 / W, 1738.0 / W], range=[-960, -910], anchor="y2"),
    yaxis2=dict(axis_style(y_ticks, "End of C-1b", 2, 7),
                domain=y_domain, range=[-940, -870], anchor="x2"),
)

fig.write_html("out.html")
